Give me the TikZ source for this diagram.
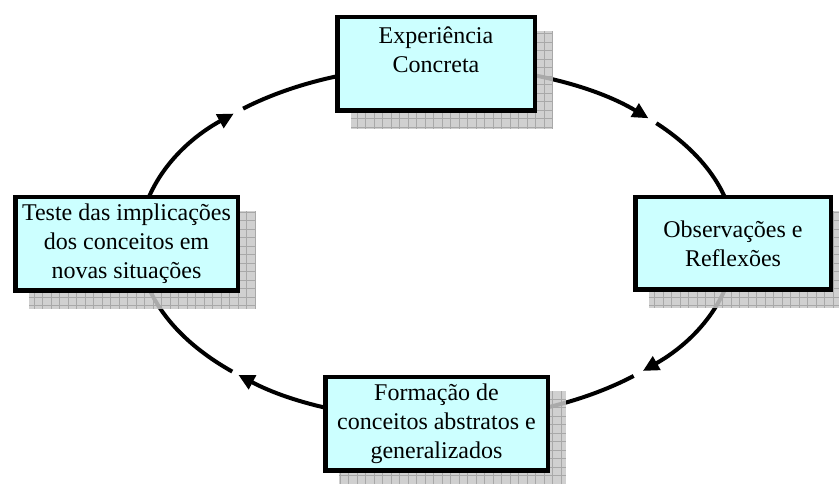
\documentclass[tikz,border=0pt]{standalone}
\usepackage{fontspec}
\setmainfont{Liberation Serif}
\usetikzlibrary{arrows.meta,calc,backgrounds}
\definecolor{boxcyan}{HTML}{CCFFFF}
\definecolor{shadowgray}{HTML}{C8C8C8}
\definecolor{gridgray}{HTML}{A8A8A8}

\begin{document}
\begin{tikzpicture}[x=1pt,y=1pt]
    \tikzstyle{stage}=[draw,line width=4.5pt,fill=boxcyan,align=center,inner sep=0pt,font=\fontsize{24}{29}\selectfont]
    \tikzstyle{cycle}=[line width=4pt]
    \tikzstyle{tip}=[-{Triangle[length=16pt,width=15pt]}]
    \tikzstyle{ring}=[x radius=298,y radius=177]
    \useasboundingbox (0,0) rectangle (839,484);
    \clip (0,0) rectangle (839,484);
    % the four stages
    \node[stage,minimum width=197.5,minimum height=93.5] (concrete) at (436,420) {Experiência\\Concreta\\\mbox{}};
    \node[stage,minimum width=195.5,minimum height=92.5] (reflect) at (733,240.5) {Observações e\\Reflexões};
    \node[stage,minimum width=222.5,minimum height=93.5] (abstract) at (436.5,60) {Formação de\\conceitos abstratos e\\generalizados};
    \node[stage,minimum width=222.5,minimum height=93.5] (test) at (126.5,240) {Teste das implicações\\dos conceitos em\\novas situações};
    % points on the cycle
    \coordinate (c) at (437,241);
    \coordinate (w) at ($(c)+(180:298 and 177)$);
    \coordinate (n) at ($(c)+(90:298 and 177)$);
    \coordinate (e) at ($(c)+(0:298 and 177)$);
    \coordinate (s) at ($(c)+(-90:298 and 177)$);
    \coordinate (nw) at ($(c)+(130.6:298 and 177)$);
    \coordinate (ne) at ($(c)+(42.6:298 and 177)$);
    \coordinate (se) at ($(c)+(-48.7:298 and 177)$);
    \coordinate (sw) at ($(c)+(-133.4:298 and 177)$);
    \begin{scope}[on background layer]
      \draw[cycle,tip] (w) arc[start angle=180,end angle=133,ring];
      \draw[cycle] (nw) arc[start angle=130.6,end angle=90,ring];
      \draw[cycle,tip] (n) arc[start angle=90,end angle=44.8,ring];
      \draw[cycle] (ne) arc[start angle=42.6,end angle=0,ring];
      \draw[cycle,tip] (e) arc[start angle=0,end angle=-46.3,ring];
      \draw[cycle] (se) arc[start angle=-48.7,end angle=-90,ring];
      \draw[cycle,tip] (s) arc[start angle=-90,end angle=-131.8,ring];
      \draw[cycle] (sw) arc[start angle=-133.4,end angle=-180,ring];
      % shadows
      \foreach \n in {concrete,reflect,abstract,test}{
        \begin{scope}
          \clip ([shift={(16,-16)}]\n.south west) rectangle ([shift={(16,-16)}]\n.north east);
          \fill[shadowgray,fill opacity=0.85] ([shift={(16,-16)}]\n.south west) rectangle ([shift={(16,-16)}]\n.north east);
          \draw[gridgray,line width=0.8pt,step=8.5] ([shift={(16,-16)}]\n.south west) grid ([shift={(16,-16)}]\n.north east);
        \end{scope}
      }
    \end{scope}
\end{tikzpicture}
\end{document}
